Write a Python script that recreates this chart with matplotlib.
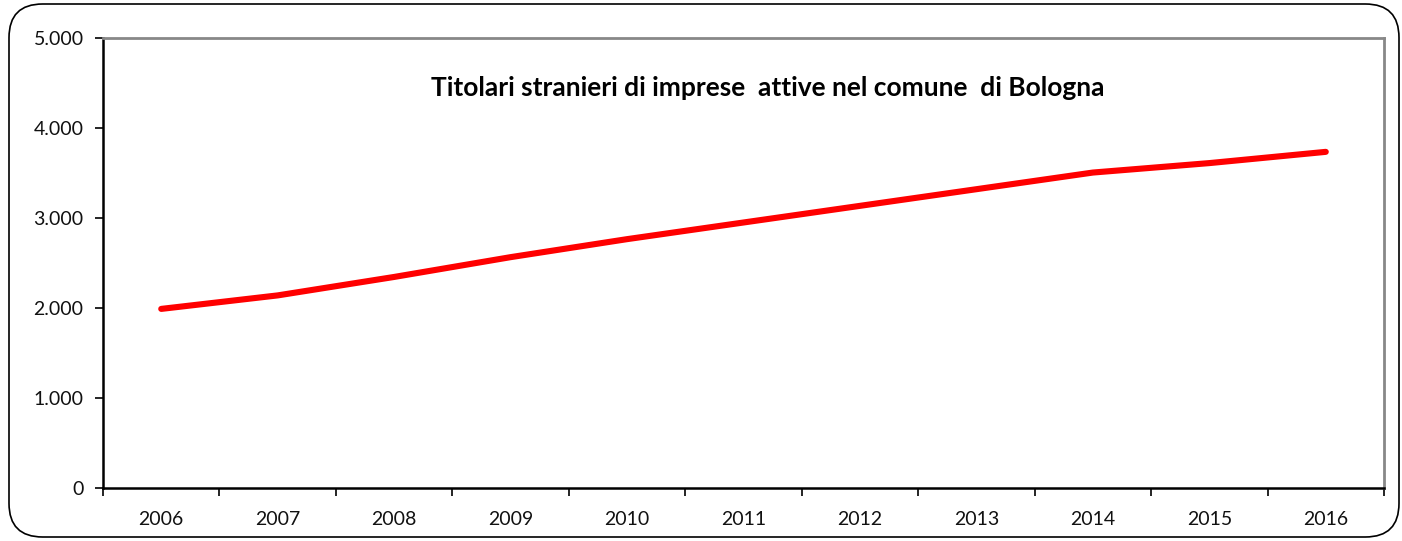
import matplotlib
matplotlib.use("Agg")
import matplotlib.pyplot as plt
from matplotlib.patches import FancyBboxPatch
from matplotlib.ticker import FuncFormatter, MultipleLocator
import numpy as np

years = ["2006", "2007", "2008", "2009", "2010", "2011", "2012", "2013", "2014", "2015", "2016"]
titolari = [1990, 2140, 2345, 2565, 2765, 2950, 3135, 3320, 3505, 3610, 3735]
title = "Titolari stranieri di imprese  attive nel comune  di Bologna"

W, H = 1402, 541
fig = plt.figure(figsize=(W / 100, H / 100), dpi=100)

# rounded outer border
border = FancyBboxPatch((9 / W, 4 / H), (1399 - 9) / W, (537 - 4) / H,
                        boxstyle="round,pad=0,rounding_size=0.024",
                        transform=fig.transFigure, fill=False,
                        edgecolor="black", linewidth=1.2, mutation_aspect=W / H)
fig.patches.append(border)

ax = fig.add_axes([103 / W, 1 - 488 / H, (1384 - 103) / W, (488 - 38) / H])
x = np.arange(len(years))
ax.plot(x, titolari, color="#ff0000", linewidth=4.4, solid_capstyle="round",
        solid_joinstyle="round")

ax.set_xlim(-0.5, len(years) - 0.5)
ax.set_ylim(0, 5000)
ax.yaxis.set_major_locator(MultipleLocator(1000))
ax.yaxis.set_major_formatter(FuncFormatter(lambda v, p: "0" if v == 0 else f"{int(v):,}".replace(",", ".")))
ax.set_xticks(x)
ax.set_xticklabels(years)
ax.set_xticks(np.arange(-0.5, len(years), 1), minor=True)
ax.tick_params(axis="x", which="major", length=0, pad=16.5)
ax.tick_params(axis="x", which="minor", length=6, width=1.2, direction="out", color="black")
ax.tick_params(axis="y", which="major", length=6, width=1.2, direction="out", pad=8, color="black")
for lab in ax.get_xticklabels() + ax.get_yticklabels():
    lab.set_fontfamily(["Lato", "DejaVu Sans"])
    lab.set_fontsize(14)
    lab.set_color("#111111")

ax.spines["left"].set_color("black")
ax.spines["left"].set_linewidth(1.8)
ax.spines["bottom"].set_color("black")
ax.spines["bottom"].set_linewidth(1.8)
ax.spines["top"].set_color("#888888")
ax.spines["top"].set_linewidth(2.0)
ax.spines["right"].set_color("#888888")
ax.spines["right"].set_linewidth(2.0)

fig.text(768 / W, 1 - 88 / H, title, ha="center", va="center",
         fontsize=19, fontweight="bold",
         family=["Lato", "DejaVu Sans"])

fig.savefig("out.png", dpi=100)
